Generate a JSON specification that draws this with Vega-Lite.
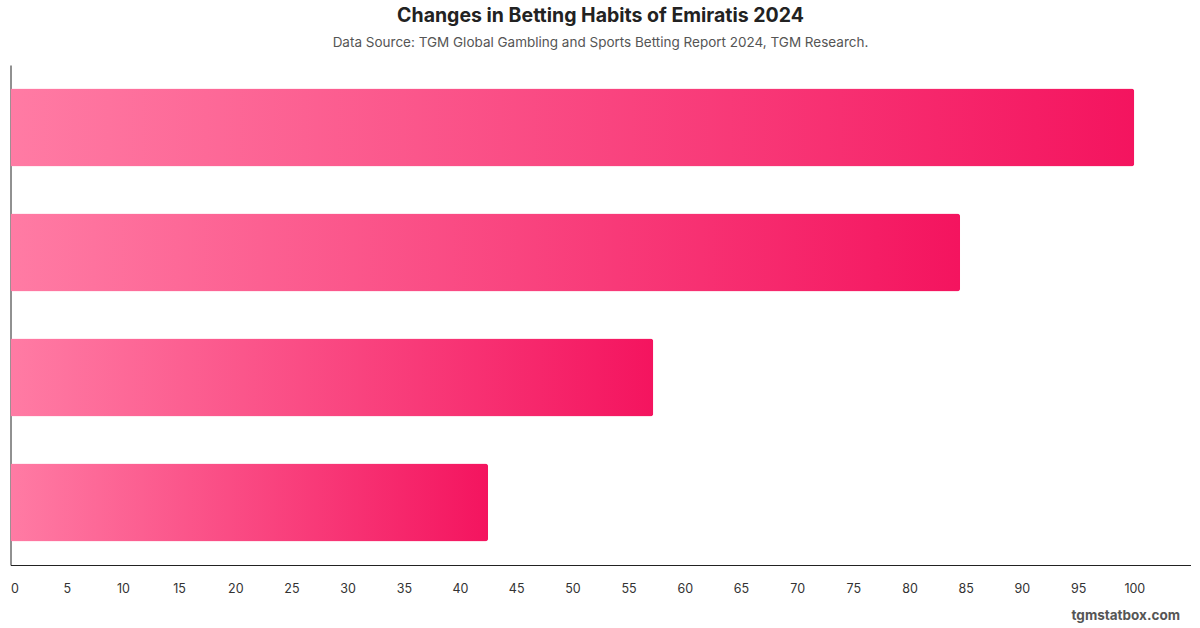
{
  "$schema": "https://vega.github.io/schema/vega-lite/v6.json",
  "width": 1180,
  "height": 500,
  "autosize": {"type": "none"},
  "padding": {"left": 10.5, "top": 65, "right": 9.5, "bottom": 63},
  "background": "white",
  "title": {
    "text": "Changes in Betting Habits of Emiratis 2024",
    "subtitle": "Data Source: TGM Global Gambling and Sports Betting Report 2024, TGM Research.",
    "anchor": "middle",
    "frame": "group",
    "font": "Inter",
    "fontSize": 19.5,
    "fontWeight": "bold",
    "color": "#222222",
    "subtitleFont": "Inter",
    "subtitleFontSize": 13.5,
    "subtitleColor": "#555555",
    "subtitlePadding": 9,
    "offset": 15
  },
  "data": {
    "values": [
      {"category": "Item 1", "value": 100},
      {"category": "Item 2", "value": 84.5},
      {"category": "Item 3", "value": 57.2},
      {"category": "Item 4", "value": 42.5}
    ]
  },
  "mark": {
    "type": "bar",
    "cornerRadiusTopRight": 3,
    "cornerRadiusBottomRight": 3,
    "color": {
      "gradient": "linear",
      "x1": 0, "y1": 0, "x2": 1, "y2": 0,
      "stops": [
        {"offset": 0, "color": "#ff7ba4"},
        {"offset": 1, "color": "#f4145f"}
      ]
    }
  },
  "encoding": {
    "y": {
      "field": "category",
      "type": "nominal",
      "sort": null,
      "scale": {"paddingInner": 0.376, "paddingOuter": 0.188},
      "axis": {
        "title": null,
        "labels": false,
        "ticks": false,
        "domainColor": "#222222",
        "domainWidth": 1
      }
    },
    "x": {
      "field": "value",
      "type": "quantitative",
      "scale": {"domain": [0, 105], "nice": false},
      "axis": {
        "values": [0,5,10,15,20,25,30,35,40,45,50,55,60,65,70,75,80,85,90,95,100],
        "grid": false,
        "ticks": false,
        "domainColor": "#222222",
        "domainWidth": 1,
        "labelFont": "Inter",
        "labelFontSize": 12.5,
        "labelColor": "#333333",
        "labelPadding": 17,
        "labelOffset": 0,
        "title": "tgmstatbox.com",
        "titleAnchor": "end",
        "titleAlign": "right",
        "titleBaseline": "middle",
        "titleX": 1169,
        "titleY": 50,
        "titleFont": "Inter",
        "titleFontSize": 13.5,
        "titleFontWeight": "bold",
        "titleColor": "#555555"
      }
    }
  },
  "config": {"view": {"stroke": null}}
}
